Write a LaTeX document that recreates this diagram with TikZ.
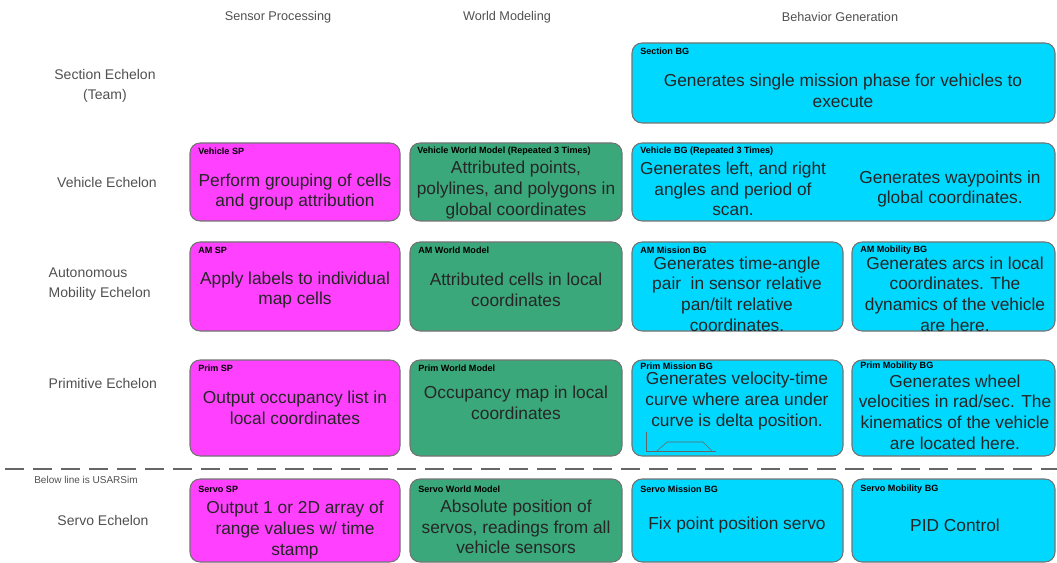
\documentclass[tikz,border=0pt]{standalone}
\usepackage{fontspec}
\setmainfont{Liberation Sans}
\definecolor{spcol}{RGB}{255,64,255}
\definecolor{wmcol}{RGB}{58,168,122}
\definecolor{bgcol}{RGB}{0,216,255}
\definecolor{lblcol}{RGB}{80,80,80}

\begin{document}
\begin{tikzpicture}[x=0.75pt, y=-0.75pt,
	box/.style={draw=black!55, line width=0.8pt, rounded corners=7.5pt},
	spbox/.style={box, fill=spcol},
	wmbox/.style={box, fill=wmcol},
	bgbox/.style={box, fill=bgcol},
	tag/.style={anchor=west, inner sep=0pt, font=\fontsize{6.8}{7}\selectfont\bfseries},
	body/.style={align=center, inner sep=0pt, text=black!85, font=\fontsize{13}{15.5}\selectfont},
	head/.style={text=lblcol, font=\fontsize{9.5}{12}\selectfont},
	row/.style={text=lblcol, align=center, font=\fontsize{10.5}{15}\selectfont}]
			\useasboundingbox (0,0) rectangle (1057,563);
			\clip (0,0) rectangle (1057,563);
			
			% ========== column and row titles ==========
			\node[head] (hsp) at (278,17) {Sensor Processing};
			\node[head] (hwm) at (507,17) {World Modeling};
			\node[head] (hbg) at (840,17) {Behavior Generation};
			
			\node[row] (rsec) at (105,86) {Section Echelon\\(Team)};
			\node[row] (rveh) at (107,182) {Vehicle Echelon};
			\node[row, align=left, anchor=west] (ram) at (44,284) {Autonomous\\Mobility Echelon};
			\node[row, anchor=west] (rprim) at (44,383) {Primitive Echelon};
			\node[row] (rservo) at (103,520) {Servo Echelon};
			\node[text=lblcol, font=\fontsize{7.5}{8}\selectfont] (rusar) at (86,480) {Below line is USARSim};
			
			\draw[black!60, line width=2.2pt, dash pattern=on 14pt off 7pt] (5,469) -- (1057,469);
			
			% ========== Section ==========
			\draw[bgbox] (632,43) rectangle (1055,123);
			\node[tag] (secbgt) at (640,51) {Section BG};
			\node[body] (secbg) at (843,91) {Generates single mission phase for vehicles to\\execute};
			
			% ========== Vehicle ==========
			\draw[spbox] (190,143) rectangle (400,221);
			\node[tag] (vspt) at (198,151) {Vehicle SP};
			\node[body] (vsp) at (295,192) {Perform grouping of cells\\and group attribution};
			\draw[wmbox] (410,143) rectangle (622,221);
			\node[tag] (vwmt) at (417,151) {Vehicle World Model (Repeated 3 Times)};
			\node[body] (vwm) at (516,190) {Attributed points,\\polylines, and polygons in\\global coordinates};
			\draw[bgbox] (632,143) rectangle (1055,221);
			\node[tag] (vbgt) at (640,151) {Vehicle BG (Repeated 3 Times)};
			\node[body] (vbgl) at (733,189) {Generates left, and right\\angles and period of\\scan.};
			\node[body] (vbgr) at (950,189) {Generates waypoints in\\global coordinates.};
			
			% ========== Autonomous Mobility ==========
			\draw[spbox] (190,242) rectangle (400,331);
			\node[tag] (amspt) at (198,250) {AM SP};
			\node[body] (amsp) at (295,290) {Apply labels to individual\\map cells};
			\draw[wmbox] (410,242) rectangle (622,331);
			\node[tag] (amwmt) at (418,250) {AM World Model};
			\node[body] (amwm) at (516,290) {Attributed cells in local\\coordinates};
			\draw[bgbox] (632,242) rectangle (843,331);
			\node[tag] (ammist) at (640,250) {AM Mission BG};
			\node[body] (ammis) at (737,294) {Generates time-angle\\pair\ \ in sensor relative\\pan/tilt relative\\coordinates.};
			\draw[bgbox] (852,242) rectangle (1055,331);
			\node[tag] (ammobt) at (860,250) {AM Mobility BG};
			\node[body] (ammob) at (955,294) {Generates arcs in local\\coordinates. The\\dynamics of the vehicle\\are here.};
			
			% ========== Primitive ==========
			\draw[spbox] (190,360) rectangle (400,456);
			\node[tag] (prspt) at (198,368) {Prim SP};
			\node[body] (prsp) at (295,408) {Output occupancy list in\\local coordinates};
			\draw[wmbox] (410,360) rectangle (622,456);
			\node[tag] (prwmt) at (418,368) {Prim World Model};
			\node[body] (prwm) at (516,403) {Occupancy map in local\\coordinates};
			\draw[bgbox] (632,360) rectangle (843,456);
			\node[tag] (prmist) at (640,366) {Prim Mission BG};
			\node[body] (prmis) at (737,401) {Generates velocity-time\\curve where area under\\curve is delta position.};
			\draw[black!60, line width=0.4pt] (646,432) -- (646,451) -- (716,451);
			\draw[black!60, line width=0.4pt] (657,451) -- (667,442) -- (703,442) -- (712,451);
			\draw[bgbox] (852,360) rectangle (1055,456);
			\node[tag] (prmobt) at (860,366) {Prim Mobility BG};
			\node[body] (prmob) at (955,412) {Generates wheel\\velocities in rad/sec. The\\kinematics of the vehicle\\are located here.};
			
			% ========== Servo ==========
			\draw[spbox] (190,479) rectangle (400,562);
			\node[tag] (svspt) at (198,489) {Servo SP};
			\node[body] (svsp) at (295,530) {Output 1 or 2D array of\\range values w/ time\\stamp};
			\draw[wmbox] (410,479) rectangle (622,562);
			\node[tag] (svwmt) at (418,489) {Servo World Model};
			\node[body] (svwm) at (516,527) {Absolute position of\\servos, readings from all\\vehicle sensors};
			\draw[bgbox] (632,479) rectangle (843,562);
			\node[tag] (svmist) at (640,489) {Servo Mission BG};
			\node[body] (svmis) at (737,525) {Fix point position servo};
			\draw[bgbox] (852,479) rectangle (1055,562);
			\node[tag] (svmobt) at (860,489) {Servo Mobility BG};
			\node[body] (svmob) at (955,525) {PID Control};
		\end{tikzpicture}
\end{document}
